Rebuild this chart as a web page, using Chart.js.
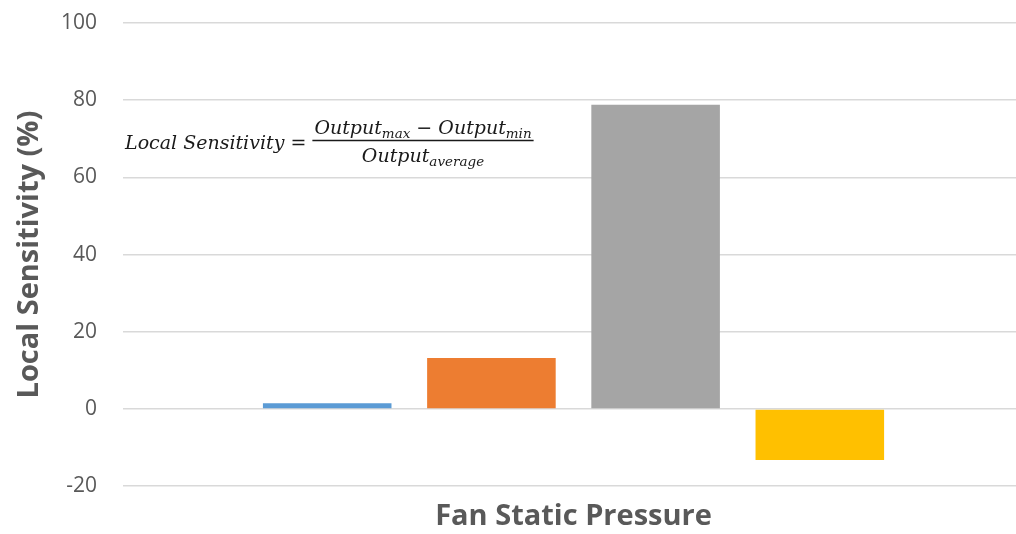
<!DOCTYPE html>
<html>
<head>
<meta charset="utf-8">
<script src="https://cdn.jsdelivr.net/npm/chart.js@4/dist/chart.umd.min.js"></script>
<style>
  html, body { margin: 0; padding: 0; background: #ffffff; overflow: hidden; }
  #wrap { width: 1016px; height: 534px; overflow: hidden; }
  canvas { display: block; }
</style>
</head>
<body>
<div id="wrap"><canvas id="chart" width="1024" height="534"></canvas></div>
<script>
// Category and series data
const categories = ['Fan Static Pressure'];
const seriesNames = ['Case 1', 'Case 2', 'Case 3', 'Case 4'];
const seriesValues = [1.5, 13.2, 78.8, -13.2];
const seriesColors = ['#5b9bd5', '#ed7d31', '#a5a5a5', '#ffc000'];
const yTicks = [-20, 0, 20, 40, 60, 80, 100];

const datasets = seriesNames.map((name, i) => ({
  label: name,
  data: [seriesValues[i]],
  backgroundColor: seriesColors[i],
  borderWidth: 0,
  barPercentage: 0.783,
  categoryPercentage: 0.729
}));

// Draws the sensitivity formula as a stacked fraction in the upper-left of the plot
const formulaPlugin = {
  id: 'formula',
  afterDatasetsDraw(chart) {
    const { ctx, chartArea, scales: { y } } = chart;
    const lineY = Math.round(y.getPixelForValue(69.7)) + 0.5;
    const x0 = chartArea.left + 2;
    const mainFont = 'italic 19px "DejaVu Serif"';
    const subFont = 'italic 13.5px "DejaVu Serif"';
    ctx.save();
    ctx.fillStyle = '#1a1a1a';
    ctx.strokeStyle = '#1a1a1a';
    ctx.textBaseline = 'alphabetic';
    ctx.textAlign = 'left';

    ctx.font = mainFont;
    const lhs = 'Local Sensitivity = ';
    ctx.fillText(lhs, x0, lineY + 8);
    const lhsW = ctx.measureText(lhs).width;

    const measure = (parts) => parts.reduce((w, p) => {
      ctx.font = p[1] ? subFont : mainFont;
      return w + ctx.measureText(p[0]).width;
    }, 0);
    const drawParts = (parts, x, base) => {
      parts.forEach(p => {
        ctx.font = p[1] ? subFont : mainFont;
        ctx.fillText(p[0], x, base + (p[1] ? 4 : 0));
        x += ctx.measureText(p[0]).width;
      });
    };

    const num = [['Output', false], ['max', true], [' \u2212 Output', false], ['min', true]];
    const den = [['Output', false], ['average', true]];
    const numW = measure(num);
    const denW = measure(den);
    const fw = Math.max(numW, denW) + 4;
    const fx = x0 + lhsW;

    ctx.lineWidth = 1.4;
    ctx.beginPath();
    ctx.moveTo(fx, lineY);
    ctx.lineTo(fx + fw, lineY);
    ctx.stroke();

    drawParts(num, fx + (fw - numW) / 2, lineY - 7);
    drawParts(den, fx + (fw - denW) / 2, lineY + 21);
    ctx.restore();
  }
};

new Chart(document.getElementById('chart'), {
  type: 'bar',
  data: { labels: categories, datasets },
  plugins: [formulaPlugin],
  options: {
    responsive: false,
    animation: false,
    layout: { padding: { top: 23, left: 0, right: 0, bottom: 0 } },
    plugins: {
      legend: { display: false },
      tooltip: { enabled: false }
    },
    scales: {
      x: {
        grid: { display: false, drawTicks: false },
        border: { display: false },
        ticks: { display: false },
        title: {
          display: true,
          text: 'Fan Static Pressure',
          color: '#595959',
          font: { family: '"Open Sans"', size: 29, weight: 'bold' },
          padding: { top: 13, bottom: 0 }
        }
      },
      y: {
        min: -20,
        max: 100,
        afterBuildTicks(axis) { axis.ticks = yTicks.map(v => ({ value: v })); },
        grid: {
          color: '#d9d9d9',
          lineWidth: 1.5,
          drawTicks: true,
          tickLength: 22,
          tickColor: 'rgba(0,0,0,0)'
        },
        border: { display: false },
        ticks: {
          color: '#595959',
          font: { family: '"Open Sans"', size: 21 },
          padding: 4
        },
        title: {
          display: true,
          text: 'Local Sensitivity (%)',
          color: '#595959',
          font: { family: '"Open Sans"', size: 29, weight: 'bold' },
          padding: { top: 12.6, bottom: 9.6 }
        }
      }
    }
  }
});
</script>
</body>
</html>
